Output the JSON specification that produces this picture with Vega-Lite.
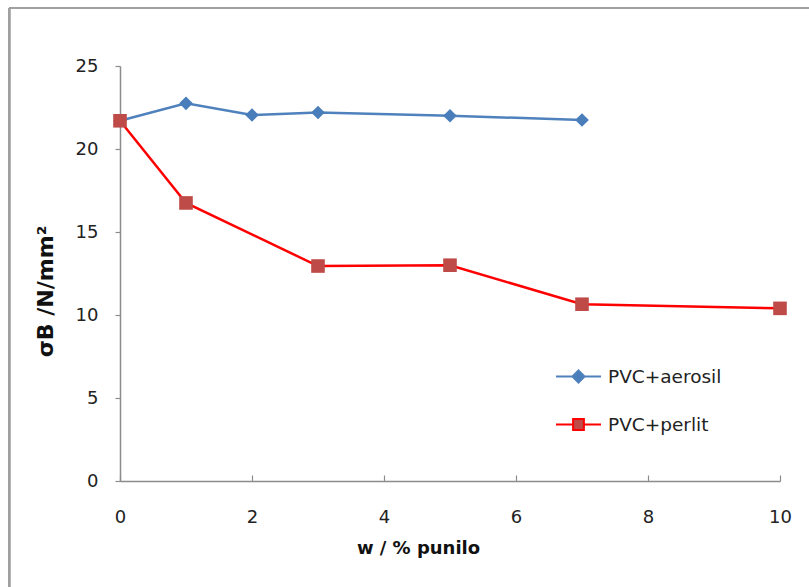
{
  "$schema": "https://vega.github.io/schema/vega-lite/v6.json",
  "width": 660,
  "height": 415,
  "autosize": {"type": "none"},
  "padding": {"left": 120, "top": 66, "right": 29, "bottom": 106},
  "background": "white",
  "config": {
    "view": {"stroke": null},
    "font": "DejaVu Sans",
    "axis": {"grid": false, "domainColor": "#8C8C8C", "tickColor": "#8C8C8C", "domainWidth": 1.5, "tickWidth": 1.2, "labelColor": "#222", "labelFont": "DejaVu Sans", "labelFontSize": 18, "titleFont": "DejaVu Sans", "titleFontWeight": "bold", "titleColor": "#111"},
    "legend": {"labelFont": "DejaVu Sans", "labelFontSize": 18.5, "labelColor": "#222"}
  },
  "data": {"values": [
    {"x": 0, "y": 21.7, "series": "PVC+aerosil"},
    {"x": 1, "y": 22.75, "series": "PVC+aerosil"},
    {"x": 2, "y": 22.05, "series": "PVC+aerosil"},
    {"x": 3, "y": 22.2, "series": "PVC+aerosil"},
    {"x": 5, "y": 22.0, "series": "PVC+aerosil"},
    {"x": 7, "y": 21.75, "series": "PVC+aerosil"},
    {"x": 0, "y": 21.7, "series": "PVC+perlit"},
    {"x": 1, "y": 16.75, "series": "PVC+perlit"},
    {"x": 3, "y": 12.95, "series": "PVC+perlit"},
    {"x": 5, "y": 13.0, "series": "PVC+perlit"},
    {"x": 7, "y": 10.65, "series": "PVC+perlit"},
    {"x": 10, "y": 10.4, "series": "PVC+perlit"}
  ]},
  "encoding": {
    "x": {"field": "x", "type": "quantitative", "scale": {"domain": [0, 10], "nice": false},
      "axis": {"values": [0, 2, 4, 6, 8, 10], "tickSize": -6, "labelPadding": 33, "labelFlush": false, "title": "w / % punilo", "titleFontSize": 18, "titleX": 298, "titleY": 67, "titleBaseline": "middle", "titleAnchor": null, "titleAlign": "center"}},
    "y": {"field": "y", "type": "quantitative", "scale": {"domain": [0, 25], "nice": false},
      "axis": {"values": [0, 5, 10, 15, 20, 25], "tickSize": 5, "labelPadding": 17, "title": "σB /N/mm²", "titleFontSize": 22, "titleX": -75, "titleY": 225, "titleAngle": -90, "titleAlign": "center", "titleBaseline": "middle", "titleAnchor": null}}
  },
  "layer": [
    {
      "mark": {"type": "rule", "color": "#A0A0A0", "strokeWidth": 2, "clip": false},
      "encoding": {
        "x": {"datum": -1.68},
        "x2": {"datum": 13},
        "y": {"datum": 28.49},
        "y2": {"datum": 28.49}
      }
    },
    {
      "mark": {"type": "rule", "color": "#A0A0A0", "strokeWidth": 2, "clip": false},
      "encoding": {
        "x": {"datum": -1.68},
        "x2": {"datum": -1.68},
        "y": {"datum": 28.49},
        "y2": {"datum": -7}
      }
    },
    {
      "mark": {"type": "line", "strokeWidth": 2.5},
      "encoding": {
        "color": {"field": "series", "type": "nominal", "scale": {"domain": ["PVC+aerosil", "PVC+perlit"], "range": ["#4F81BD", "#FF0000"]}, "legend": null}
      }
    },
    {
      "mark": {"type": "point", "filled": true, "opacity": 1},
      "encoding": {
        "shape": {"field": "series", "type": "nominal", "scale": {"domain": ["PVC+aerosil", "PVC+perlit"], "range": ["diamond", "square"]}, "legend": null},
        "fill": {"field": "series", "type": "nominal", "scale": {"domain": ["PVC+aerosil", "PVC+perlit"], "range": ["#4A7EBB", "#BE4B48"]}, "legend": null},
        "size": {"value": 185}
      }
    },
    {
      "mark": {"type": "point", "opacity": 0, "strokeWidth": 2.5, "size": 2025},
      "encoding": {
        "shape": {"field": "series", "type": "nominal", "title": null,
          "scale": {"domain": ["PVC+aerosil", "PVC+perlit"], "range": [
            "M-1,0H-0.27M0.27,0H1M0,-0.27L0.27,0L0,0.27L-0.27,0Z",
            "M-1,0H-0.24M0.24,0H1M-0.24,-0.24H0.24V0.24H-0.24Z"
          ]},
          "legend": {"orient": "none", "legendX": 435, "legendY": 287, "padding": 0, "rowPadding": 14, "labelOffset": 6, "symbolOpacity": 1, "symbolSize": 2025, "symbolStrokeWidth": 2}
        },
        "fill": {"field": "series", "type": "nominal", "title": null, "scale": {"domain": ["PVC+aerosil", "PVC+perlit"], "range": ["#4A7EBB", "#BE4B48"]}},
        "stroke": {"field": "series", "type": "nominal", "title": null, "scale": {"domain": ["PVC+aerosil", "PVC+perlit"], "range": ["#4F81BD", "#FF0000"]}}
      }
    }
  ],
  "resolve": {"scale": {"shape": "independent", "color": "independent", "fill": "independent", "stroke": "independent"}}
}
